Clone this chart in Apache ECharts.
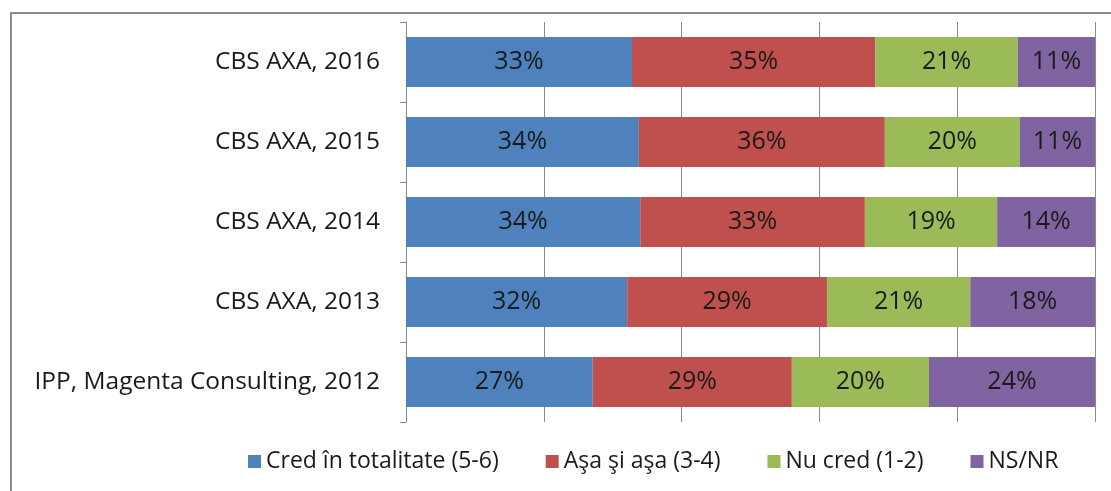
<!DOCTYPE html>
<html>
 <head>
  <title>Stacked bar</title>
  <script src="https://cdn.jsdelivr.net/npm/echarts@6/dist/echarts.min.js"></script>
  <style>
    html, body, #container {
    width: 100%;
    height: 100%;
    margin: 0;
    padding: 0;
    background: #fff;
    }
  </style>
 </head>
<body>
  <div id="container"></div>
  <script>
    var categories = ['CBS AXA, 2016', 'CBS AXA, 2015', 'CBS AXA, 2014', 'CBS AXA, 2013', 'IPP, Magenta Consulting, 2012'];
    var seriesNames = ['Cred în totalitate (5-6)', 'Aşa şi aşa (3-4)', 'Nu cred (1-2)', 'NS/NR'];
    var credTotal = [32.8, 33.8, 34.0, 32.1, 27.1];
    var asaSiAsa = [35.3, 35.7, 32.6, 29.0, 28.9];
    var nuCred = [20.7, 19.6, 19.2, 20.8, 19.9];
    var nsnr = [11.2, 10.9, 14.2, 18.1, 24.1];
    var colors = ['#4F81BD', '#C0504D', '#9BBB59', '#8064A2'];

    var font = '"Open Sans", sans-serif';
    var chart = echarts.init(document.getElementById('container'));

    var values = [credTotal, asaSiAsa, nuCred, nsnr];
    var series = values.map(function (arr, i) {
      return {
        name: seriesNames[i],
        type: 'bar',
        stack: 'total',
        barWidth: 50,
        data: arr,
        itemStyle: { color: colors[i] },
        label: {
          show: true,
          position: 'inside',
          fontSize: 25,
          fontFamily: font,
          color: '#1a1a1a',
          formatter: function (p) { return Math.round(p.value) + '%'; }
        }
      };
    });

    chart.setOption({
      animation: false,
      color: colors,
      graphic: [{
        type: 'rect',
        shape: { x: 11, y: 13, width: 1200, height: 600 },
        style: { fill: 'none', stroke: '#8c8c8c', lineWidth: 2 },
        z: 0
      }],
      grid: { left: 406, right: 16, top: 22, bottom: 69 },
      xAxis: {
        type: 'value',
        min: 0,
        max: 100,
        interval: 20,
        axisLabel: { show: false },
        axisLine: { show: false },
        axisTick: { show: false },
        splitLine: { lineStyle: { color: '#8a8a8a', width: 1 } }
      },
      yAxis: {
        type: 'category',
        inverse: true,
        data: categories,
        axisLine: { lineStyle: { color: '#8a8a8a' } },
        axisTick: { show: true, length: 6, lineStyle: { color: '#8a8a8a' } },
        axisLabel: { fontSize: 24.5, fontFamily: font, color: '#1a1a1a', margin: 26 }
      },
      legend: {
        left: 243,
        top: 445,
        icon: 'rect',
        itemWidth: 13,
        itemHeight: 13,
        itemGap: 47,
        itemStyle: { borderWidth: 0 },
        textStyle: { fontSize: 23, fontFamily: font, color: '#1a1a1a' },
        data: seriesNames
      },
      series: series
    });
  </script>
</body>
</html>
